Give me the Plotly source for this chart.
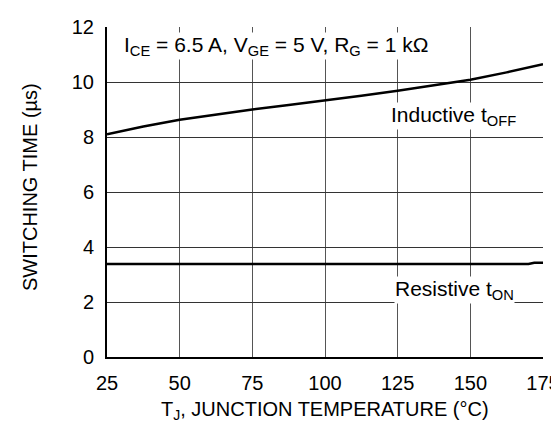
import plotly.graph_objects as go

# Data
temp_off = [25, 37.5, 50, 62.5, 75, 87.5, 100, 112.5, 125, 137.5, 150, 162.5, 175]
t_off = [8.10, 8.38, 8.63, 8.82, 9.00, 9.16, 9.32, 9.50, 9.68, 9.88, 10.08, 10.35, 10.65]

temp_on = [25, 170, 172, 175]
t_on = [3.38, 3.38, 3.43, 3.43]

x_ticks = [25, 50, 75, 100, 125, 150, 175]
y_ticks = [0, 2, 4, 6, 8, 10, 12]

FONT = "Liberation Sans, Arial, Helvetica, sans-serif"

fig = go.Figure()
fig.add_trace(go.Scatter(x=temp_off, y=t_off, mode="lines",
                         line=dict(color="black", width=2.5), showlegend=False))
fig.add_trace(go.Scatter(x=temp_on, y=t_on, mode="lines",
                         line=dict(color="black", width=2.5), showlegend=False))

fig.update_layout(
    width=559, height=422,
    margin=dict(l=99, r=24, t=19, b=73),
    plot_bgcolor="white", paper_bgcolor="white",
    font=dict(family=FONT, size=20, color="black"),
    xaxis=dict(range=[25, 175], tickvals=x_ticks, showgrid=True,
               gridcolor="#555555", gridwidth=1, zeroline=False,
               showline=True, linecolor="black", linewidth=2,
               ticks="", ticklabelstandoff=7, tickfont=dict(size=20),
               automargin=False),
    yaxis=dict(range=[0, 12], tickvals=y_ticks, showgrid=True,
               gridcolor="#333333", gridwidth=1, zeroline=False,
               showline=True, linecolor="black", linewidth=2,
               ticks="", ticklabelstandoff=7, tickfont=dict(size=20),
               automargin=False),
    annotations=[
        # axis titles
        dict(text="T<sub>J</sub>, JUNCTION TEMPERATURE (°C)",
             x=0.5, y=0, xref="paper", yref="paper", xanchor="center", yanchor="middle",
             yshift=-53, showarrow=False, font=dict(size=20)),
        dict(text="SWITCHING TIME (µs)", textangle=-90,
             x=0, y=0.515, xref="paper", yref="paper", xanchor="center", yanchor="middle",
             xshift=-77, showarrow=False, font=dict(size=20)),
        # in-plot labels
        dict(text="I<sub>CE</sub> = 6.5 A, V<sub>GE</sub> = 5 V, R<sub>G</sub> = 1 kΩ",
             x=0.036, y=11.3, xref="paper", yref="y", xanchor="left", yanchor="middle",
             showarrow=False, font=dict(size=21), bgcolor="white", borderpad=0),
        dict(text="Inductive t<sub>OFF</sub>", x=0.649, y=8.75, xref="paper", yref="y",
             xanchor="left", yanchor="middle", showarrow=False, font=dict(size=21),
             bgcolor="white", borderpad=0),
        dict(text="Resistive t<sub>ON</sub>", x=0.658, y=2.45, xref="paper", yref="y",
             xanchor="left", yanchor="middle", showarrow=False, font=dict(size=21),
             bgcolor="white", borderpad=0),
    ],
)

fig.write_html("out.html")
